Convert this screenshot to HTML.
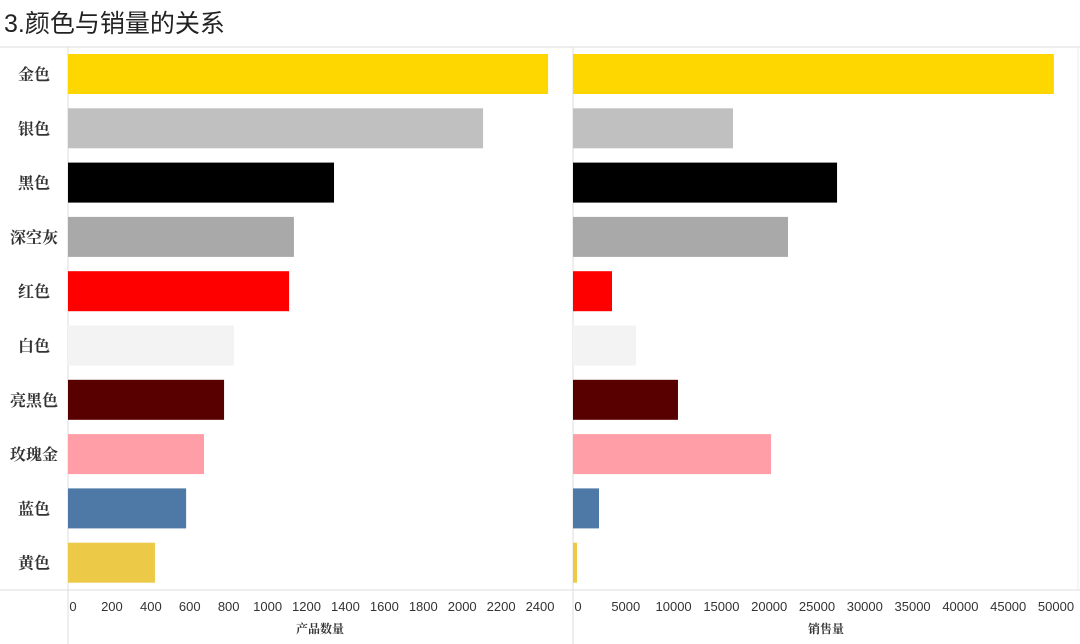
<!DOCTYPE html>
<html><head><meta charset="utf-8"><style>
html,body{margin:0;padding:0;background:#fff;width:1080px;height:644px;overflow:hidden}
svg{display:block}
</style></head><body>
<svg id="chart" width="1080" height="644" xmlns="http://www.w3.org/2000/svg">
<text x="4" y="32" font-family="'Liberation Sans','Noto Sans CJK SC',sans-serif" font-size="25" fill="#222">3.颜色与销量的关系</text>
<g id="frame">
<line x1="0" y1="47" x2="1080" y2="47" stroke="#ddd"/>
<line x1="0" y1="590" x2="1080" y2="590" stroke="#ddd"/>
<line x1="68" y1="47" x2="68" y2="644" stroke="#ddd"/>
<line x1="573" y1="47" x2="573" y2="644" stroke="#ddd"/>
<line x1="1078" y1="47" x2="1078" y2="590" stroke="#eee"/>
</g>
<g id="rows"></g><g id="bars1"></g><g id="bars2"></g><g id="ax1"></g><g id="ax2"></g>
<text x="320" y="633" text-anchor="middle" font-family="'Liberation Serif','Noto Serif CJK SC',serif" font-weight="bold" font-size="12" fill="#333">产品数量</text>
<text x="826" y="633" text-anchor="middle" font-family="'Liberation Serif','Noto Serif CJK SC',serif" font-weight="bold" font-size="12" fill="#333">销售量</text>
</svg>
<script>
const categories=["金色","银色","黑色","深空灰","红色","白色","亮黑色","玫瑰金","蓝色","黄色"];
const colors=["#FFD700","#C0C0C0","#000000","#A9A9A9","#FF0000","#F3F3F3","#580000","#FF9EA6","#4E79A7","#EDC948"];
const countValues=[2467,2133,1367,1161,1136,853,802,699,607,447];
const salesValues=[50300,16740,27620,22490,4080,6590,10980,20710,2720,420];
const countTicks=[0,200,400,600,800,1000,1200,1400,1600,1800,2000,2200,2400];
const salesTicks=[0,5000,10000,15000,20000,25000,30000,35000,40000,45000,50000];
const NS="http://www.w3.org/2000/svg";
const x1=v=>68+v*0.1946;
const x2=v=>573+v*0.00956;
const y=i=>74+i*54.3;
function mk(tag,attrs,parent){const e=document.createElementNS(NS,tag);for(const k in attrs)e.setAttribute(k,attrs[k]);document.getElementById(parent).appendChild(e);return e;}
categories.forEach((c,i)=>{
  const t=mk('text',{x:34,y:y(i)+6,'text-anchor':'middle','font-family':"'Liberation Serif','Noto Serif CJK SC',serif",'font-weight':'bold','font-size':'16',fill:'#333'},'rows');
  t.textContent=c;
  
  
  const b1=mk('rect',{x:x1(0),y:y(i)-20,width:x1(countValues[i])-x1(0),height:40,fill:colors[i]},'bars1');
  
  
  const b2=mk('rect',{x:x2(0),y:y(i)-20,width:x2(salesValues[i])-x2(0),height:40,fill:colors[i]},'bars2');
  
  
});
countTicks.forEach(v=>{
  const t=mk('text',{x:x1(v)+5,y:611,'text-anchor':'middle','font-family':"'Liberation Sans',sans-serif",'font-size':'13',fill:'#333'},'ax1');
  t.textContent=v;
  
  
});
salesTicks.forEach(v=>{
  const t=mk('text',{x:x2(v)+5,y:611,'text-anchor':'middle','font-family':"'Liberation Sans',sans-serif",'font-size':'13',fill:'#333'},'ax2');
  t.textContent=v;
  
  
});
</script>
</body></html>
